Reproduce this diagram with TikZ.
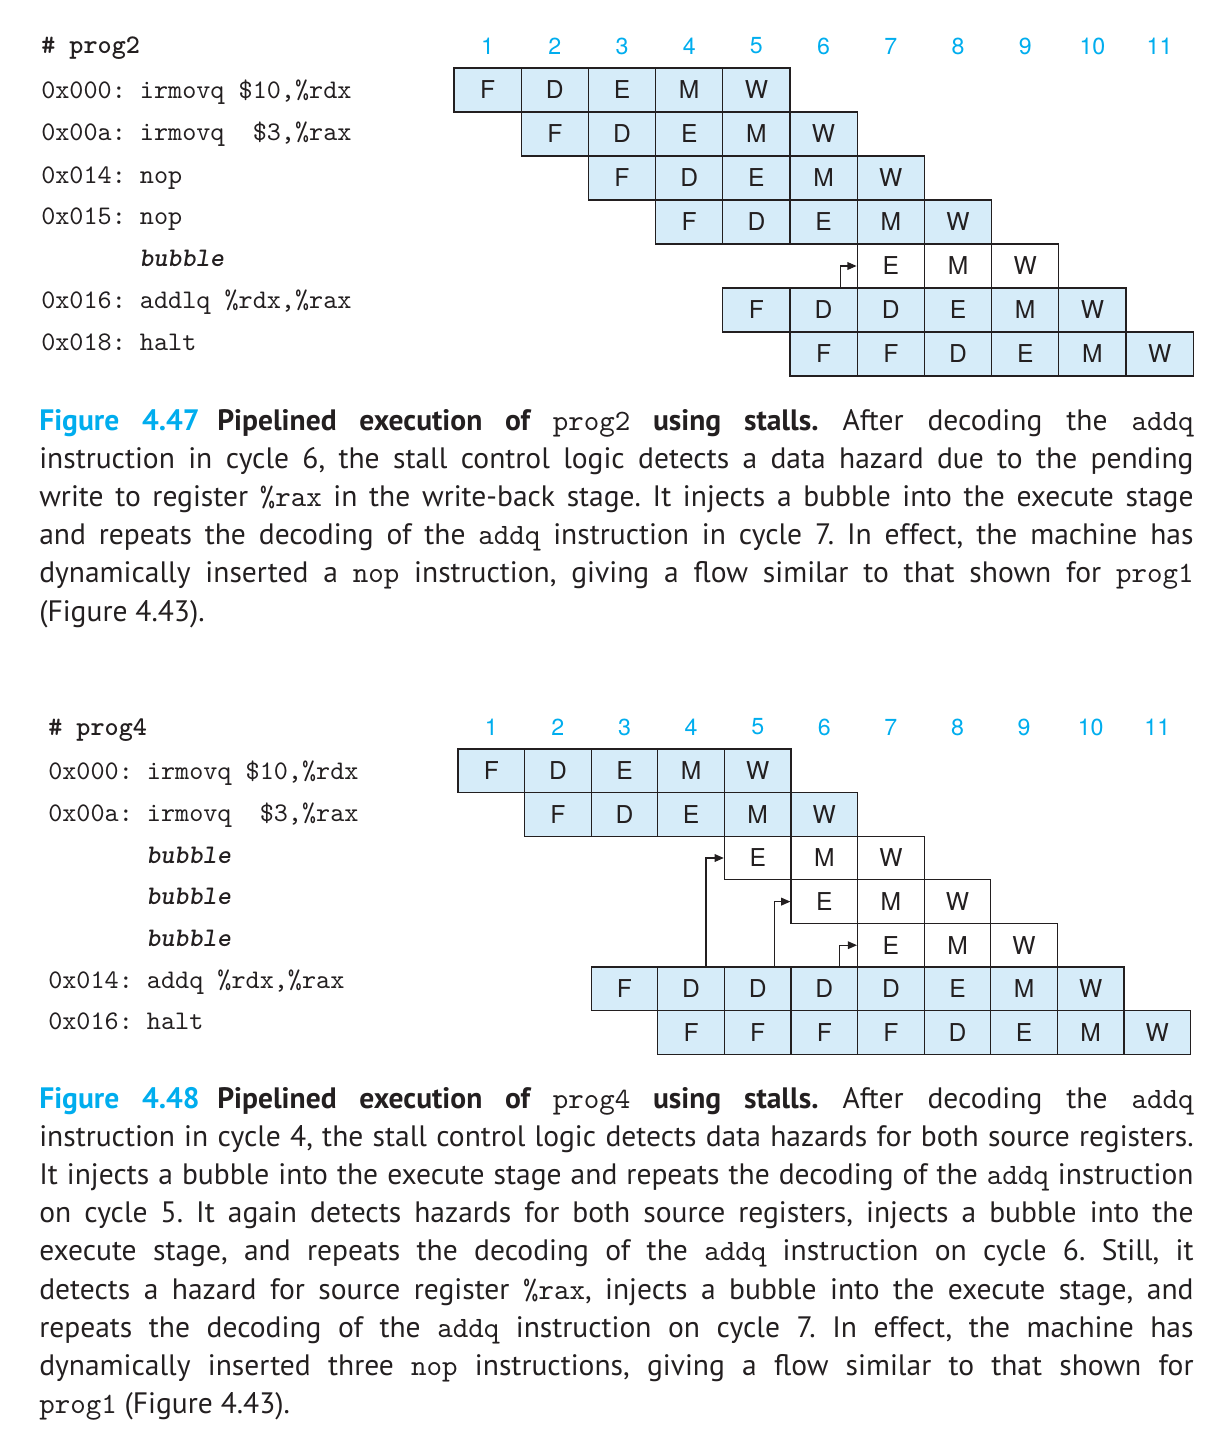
\documentclass[tikz,border=0pt]{standalone}
\usepackage{fontspec}
\setmonofont{lmmono10-regular.otf}[BoldFont=lmmonolt10-bold.otf,
  ItalicFont=lmmono10-italic.otf, BoldItalicFont=lmmonolt10-boldoblique.otf]
\newfontfamily\capfont{PT Sans}
\newfontfamily\cellfont{TeX Gyre Heros}
\usetikzlibrary{arrows,arrows.meta,calc}
\definecolor{figcyan}{RGB}{0,173,238}
\definecolor{cellblue}{RGB}{214,236,249}
\definecolor{inkgray}{RGB}{35,31,32}

\tikzset{
  stage/.style={draw=inkgray, line width=0.9pt, fill=cellblue, inner sep=0pt,
    text=inkgray, font=\cellfont\fontsize{17.5}{18}\selectfont},
  bubblestage/.style={stage, fill=white},
  cyc/.style={text=figcyan, inner sep=0pt, font=\cellfont\fontsize{16.5}{17}\selectfont},
  codeline/.style={anchor=base west, inner sep=0pt, text=inkgray,
    font=\ttfamily\fontsize{19.1}{20}\selectfont},
  captext/.style={anchor=base west, inner sep=0pt, text width=28.85cm, align=justify,
    text=inkgray, font=\capfont\fontsize{21}{27.17}\selectfont\frenchspacing},
  stall/.style={line width=0.8pt, draw=inkgray, -{Triangle[length=6.5pt,width=5.5pt]}}
}

% one row of pipeline stages: name, row top, first cycle, style, stages
\newcommand{\stagerow}[5]{%
  \foreach \st [count=\k from #3] in {#5}
    \node[#4, minimum width={\cw*0.025cm}, minimum height={\rh*0.025cm}]
      (#1-\k) at ({\xo+(\k-0.5)*\cw},{#2+0.5*\rh}) {\st};
}

\begin{document}
\begin{tikzpicture}[x=0.025cm, y=-0.025cm]
\useasboundingbox (0,0) rectangle (1221,1439);
%
% Figure 4.47 : prog2
\node[codeline] (p2title) at (41,54) {\bfseries\# prog2};
\node[codeline] (p2i1) at (41,98) {0x000: irmovq \$10,\%rdx};
\node[codeline] (p2i2) at (41,140) {0x00a: irmovq\ \ \$3,\%rax};
\node[codeline] (p2i3) at (41,183) {0x014: nop};
\node[codeline] (p2i4) at (41,224) {0x015: nop};
\node[codeline] (p2b1) at (139,266) {\bfseries\itshape bubble};
\node[codeline] (p2i5) at (41,308) {0x016: addlq \%rdx,\%rax};
\node[codeline] (p2i6) at (41,350) {0x018: halt};
%
\def\xo{454}\def\cw{67.2}\def\rh{44}
\foreach \c in {1,...,11}
  \node[cyc] (ac\c) at ({\xo+(\c-0.5)*\cw},46) {\c};
\stagerow{a1}{68}{1}{stage}{F,D,E,M,W}
\stagerow{a2}{112}{2}{stage}{F,D,E,M,W}
\stagerow{a3}{156}{3}{stage}{F,D,E,M,W}
\stagerow{a4}{200}{4}{stage}{F,D,E,M,W}
\stagerow{a5}{244}{7}{bubblestage}{E,M,W}
\stagerow{a6}{288}{5}{stage}{F,D,D,E,M,W}
\stagerow{a7}{332}{6}{stage}{F,F,D,E,M,W}
% stall : bubble into execute
\coordinate (astall) at ($(a6-6.north west)!0.75!(a6-6.north east)$);
\draw[stall] (astall) |- (a5-7.west);
%
\node[captext] (cap47) at (39,430) {\noindent{\color{figcyan}\bfseries Figure~4.47}\hspace*{0.6em}\textbf{Pipelined execution of {\ttfamily\mdseries prog2} using stalls.} After decoding the {\ttfamily addq}\linebreak
instruction in cycle 6, the stall control logic detects a data hazard due to the pending\linebreak
write to register {\ttfamily\%rax} in the write-back stage. It injects a bubble into the execute stage\linebreak
and repeats the decoding of the {\ttfamily addq} instruction in cycle 7. In effect, the machine has\linebreak
dynamically inserted a {\ttfamily nop} instruction, giving a flow similar to that shown for {\ttfamily prog1}\linebreak
(Figure 4.43).};
%
% Figure 4.48 : prog4
\node[codeline] (p4title) at (48,735) {\bfseries\# prog4};
\node[codeline] (p4i1) at (48,779) {0x000: irmovq \$10,\%rdx};
\node[codeline] (p4i2) at (48,821) {0x00a: irmovq\ \ \$3,\%rax};
\node[codeline] (p4b1) at (146,863) {\bfseries\itshape bubble};
\node[codeline] (p4b2) at (146,904) {\bfseries\itshape bubble};
\node[codeline] (p4b3) at (146,946) {\bfseries\itshape bubble};
\node[codeline] (p4i3) at (48,988) {0x014: addq \%rdx,\%rax};
\node[codeline] (p4i4) at (48,1029) {0x016: halt};
%
\def\xo{458}\def\cw{66.6}\def\rh{43.6}
\foreach \c in {1,...,11}
  \node[cyc] (bc\c) at ({\xo+(\c-0.5)*\cw},727) {\c};
\stagerow{b1}{749}{1}{stage}{F,D,E,M,W}
\stagerow{b2}{792.6}{2}{stage}{F,D,E,M,W}
\stagerow{b3}{836.2}{5}{bubblestage}{E,M,W}
\stagerow{b4}{879.8}{6}{bubblestage}{E,M,W}
\stagerow{b5}{923.4}{7}{bubblestage}{E,M,W}
\stagerow{b6}{967}{3}{stage}{F,D,D,D,D,E,M,W}
\stagerow{b7}{1010.6}{4}{stage}{F,F,F,F,D,E,M,W}
% stalls : three bubbles
\coordinate (bstall1) at ($(b6-4.north west)!0.72!(b6-4.north east)$);
\coordinate (bstall2) at ($(b6-5.north west)!0.75!(b6-5.north east)$);
\coordinate (bstall3) at ($(b6-6.north west)!0.72!(b6-6.north east)$);
\draw[stall] (bstall1) |- (b3-5.west);
\draw[stall] (bstall2) |- (b4-6.west);
\draw[stall] (bstall3) |- (b5-7.west);
%
\node[captext] (cap48) at (39,1108) {\noindent{\color{figcyan}\bfseries Figure~4.48}\hspace*{0.6em}\textbf{Pipelined execution of {\ttfamily\mdseries prog4} using stalls.} After decoding the {\ttfamily addq}\linebreak
instruction in cycle 4, the stall control logic detects data hazards for both source registers.\linebreak
It injects a bubble into the execute stage and repeats the decoding of the {\ttfamily addq} instruction\linebreak
on cycle 5. It again detects hazards for both source registers, injects a bubble into the\linebreak
execute stage, and repeats the decoding of the {\ttfamily addq} instruction on cycle 6. Still, it\linebreak
detects a hazard for source register {\ttfamily\%rax}, injects a bubble into the execute stage, and\linebreak
repeats the decoding of the {\ttfamily addq} instruction on cycle 7. In effect, the machine has\linebreak
dynamically inserted three {\ttfamily nop} instructions, giving a flow similar to that shown for\linebreak
{\ttfamily prog1} (Figure 4.43).};
\end{tikzpicture}
\end{document}
